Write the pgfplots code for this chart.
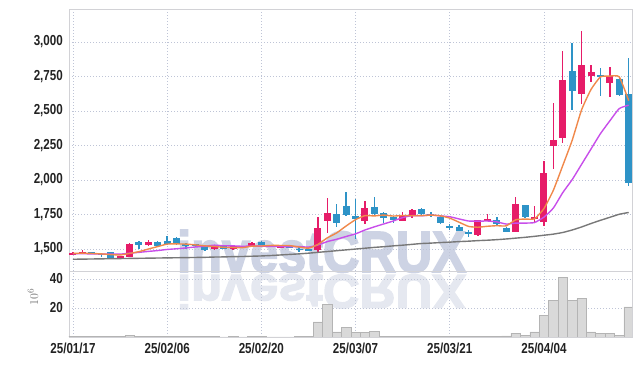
\documentclass[border=0pt]{standalone}
\usepackage{pgfplots}
\pgfplotsset{compat=1.18}
\usepackage{pgfplotstable}
\usepackage{fontspec}
\setmainfont{Liberation Sans}
\newfontfamily\tickfont{Liberation Sans}[FakeStretch=0.8]
\newfontfamily\wmfont{Liberation Sans}[FakeBold=3]
\definecolor{upc}{RGB}{230,28,104}
\definecolor{dnc}{RGB}{46,147,199}
\definecolor{maA}{RGB}{240,136,74}
\definecolor{maB}{RGB}{200,78,234}
\definecolor{maC}{RGB}{120,120,120}
\definecolor{gridc}{RGB}{190,196,214}
\definecolor{framec}{RGB}{210,210,214}
\definecolor{wm}{RGB}{205,211,228}
\definecolor{wmr}{RGB}{229,232,240}
\definecolor{volf}{RGB}{217,217,217}
\definecolor{vold}{RGB}{180,180,180}
\definecolor{lbl}{RGB}{34,34,34}

\pgfplotstableread{
x o h l c
0 1462 1475 1458 1468
1 1468 1492 1462 1482
5 1433 1452 1430 1450
6 1444 1545 1440 1536
8 1530 1562 1520 1550
15 1500 1530 1495 1524
17 1500 1522 1490 1520
18 1512 1522 1508 1519
19 1524 1550 1520 1545
22 1512 1526 1508 1521
26 1493 1735 1470 1650
27 1705 1872 1614 1763
31 1705 1848 1682 1795
35 1705 1768 1700 1739
36 1739 1790 1728 1783
43 1601 1712 1596 1710
44 1705 1753 1700 1717
47 1626 1875 1622 1826
49 1715 1814 1698 1730
50 1698 2140 1666 2048
51 2249 2556 2080 2290
52 2307 2937 2265 2725
54 2621 3082 2549 2833
55 2756 2833 2708 2785
57 2700 2821 2599 2756
}\upt

\pgfplotstableread{
x o h l c
2 1475 1482 1462 1465
3 1466 1470 1445 1455
4 1478 1480 1432 1435
7 1553 1558 1500 1530
9 1550 1560 1522 1525
10 1560 1598 1530 1540
11 1582 1585 1528 1538
12 1532 1542 1500 1524
13 1534 1538 1515 1520
14 1522 1525 1488 1490
16 1520 1522 1498 1500
20 1553 1556 1528 1530
21 1528 1532 1514 1518
23 1518 1522 1506 1510
24 1500 1520 1478 1495
25 1498 1502 1484 1487
28 1756 1826 1660 1690
29 1812 1915 1740 1746
30 1739 1862 1570 1717
32 1802 1880 1745 1751
33 1758 1768 1690 1722
34 1730 1740 1692 1710
37 1790 1795 1745 1756
38 1750 1770 1735 1742
39 1734 1738 1680 1686
40 1662 1680 1640 1655
41 1657 1672 1628 1633
42 1620 1640 1590 1606
45 1710 1732 1676 1681
46 1655 1660 1620 1626
48 1819 1822 1722 1734
53 2790 2990 2507 2648
56 2761 2809 2611 2744
58 2732 2745 2606 2616
59 2623 2882 1959 1976
}\dnt

\pgfplotstableread{
x a b g
0 1468 1466 1426
1 1470 1466 1427
2 1468 1465 1428
3 1465 1464 1429
4 1460 1463 1430
5 1457 1463 1431
6 1468 1470 1432
7 1481 1476 1433
8 1500 1483 1434
9 1518 1489 1435
10 1536 1497 1436
11 1537 1502 1437
12 1536 1508 1438
13 1530 1515 1439
14 1523 1520 1440
15 1519 1528 1442
16 1512 1524 1443
17 1511 1523 1445
18 1510 1520 1446
19 1521 1522 1448
20 1522 1521 1450
21 1526 1519 1453
22 1526 1518 1457
23 1525 1517 1461
24 1515 1518 1465
25 1506 1514 1470
26 1533 1529 1476
27 1581 1554 1482
28 1617 1571 1488
29 1667 1591 1494
30 1713 1610 1500
31 1742 1638 1506
32 1740 1661 1512
33 1746 1682 1517
34 1739 1703 1523
35 1743 1728 1528
36 1741 1742 1534
37 1742 1741 1540
38 1746 1746 1543
39 1741 1740 1547
40 1724 1734 1550
41 1694 1718 1554
42 1664 1703 1557
43 1658 1702 1561
44 1665 1703 1564
45 1669 1697 1568
46 1668 1681 1573
47 1712 1688 1579
48 1717 1688 1585
49 1719 1692 1592
50 1793 1731 1600
51 1926 1797 1608
52 2105 1909 1620
53 2288 2003 1638
54 2509 2114 1660
55 2656 2225 1685
56 2747 2336 1708
57 2753 2429 1730
58 2747 2518 1752
59 2575 2542 1765
}\mat

\pgfplotstableread{
x v
0 0.2
1 0.3
2 0.2
3 0.2
4 0.3
5 0.2
6 1.0
7 0.3
8 0.2
9 0.2
10 0.3
11 0.3
12 0.2
13 0.2
14 0.2
15 0.2
16 0.1
17 0.2
18 0.1
19 0.2
20 0.2
21 0.1
22 0.1
23 0.1
24 0.2
25 0.3
26 10.5
27 22.3
28 3.5
29 6.8
30 3.3
31 3.3
32 3.8
33 0.6
34 0.5
35 0.5
36 0.5
37 0.6
38 0.5
39 0.5
40 0.3
41 0.2
42 0.6
43 0.6
44 0.3
45 0.3
46 0.7
47 2.6
48 1.2
49 3.5
50 14.7
51 25.3
52 41.0
53 25.3
54 26.4
55 3.5
56 2.6
57 2.6
58 1.2
59 20.8
}\volt

\pgfplotsset{
  common/.style={
    scale only axis, width=563pt,
    xmin=-0.42, xmax=59.35,
    xtick={0,10,...,50},
    grid=major,
    grid style={gridc, dash pattern=on 1pt off 2pt, line width=0.6pt},
    axis line style={framec, line width=0.8pt},
    major tick length=0pt,
    tick style={draw=none},
    tick label style={font=\tickfont\bfseries\fontsize{14.5}{16}\selectfont, text=lbl},
    yticklabel style={anchor=east, inner sep=0pt, xshift=-6pt},
    /pgf/number format/assume math mode=true,
    /pgf/number format/1000 sep={,},
  }
}

\begin{document}
\begin{tikzpicture}
\path[use as bounding box] (0pt,0pt) rectangle (643pt,366pt);
% watermark
\node[anchor=base west, text=wm, font=\wmfont\bfseries\fontsize{58}{58}\selectfont, xscale=0.87, inner sep=0pt] at (177pt,94pt) {investCRUX};
\begin{scope}
\clip (0pt,56pt) rectangle (643pt,92pt);
\node[anchor=base west, text=wmr, font=\wmfont\bfseries\fontsize{58}{58}\selectfont, xscale=0.87, yscale=-0.82, inner sep=0pt] at (177pt,91pt) {investCRUX};
\end{scope}

\begin{axis}[common,
  at={(69pt,95pt)}, anchor=south west, height=262pt,
  ymin=1341, ymax=3239,
  ytick={1500,1750,...,3000},
  xticklabels={},
]
% wicks
\addplot[draw=none, mark=none, forget plot,
  error bars/.cd, y dir=both, y explicit, error mark=none,
  error bar style={draw=upc, solid, line width=1.4pt}]
  table[x=x, y expr={(\thisrow{h}+\thisrow{l})/2}, y error expr={(\thisrow{h}-\thisrow{l})/2}] {\upt};
\addplot[draw=none, mark=none, forget plot,
  error bars/.cd, y dir=both, y explicit, error mark=none,
  error bar style={draw=dnc, solid, line width=1.4pt}]
  table[x=x, y expr={(\thisrow{h}+\thisrow{l})/2}, y error expr={(\thisrow{h}-\thisrow{l})/2}] {\dnt};
% bodies
\addplot[draw=none, mark=none, forget plot,
  error bars/.cd, y dir=both, y explicit, error mark=none,
  error bar style={draw=upc, solid, line width=7pt}]
  table[x=x, y expr={(\thisrow{o}+\thisrow{c})/2}, y error expr={max(abs(\thisrow{c}-\thisrow{o})/2,6)}] {\upt};
\addplot[draw=none, mark=none, forget plot,
  error bars/.cd, y dir=both, y explicit, error mark=none,
  error bar style={draw=dnc, solid, line width=7pt}]
  table[x=x, y expr={(\thisrow{o}+\thisrow{c})/2}, y error expr={max(abs(\thisrow{c}-\thisrow{o})/2,6)}] {\dnt};
% moving averages
\addplot[maC, line width=1.4pt, mark=none, smooth, tension=0.3] table[x=x, y=g] {\mat};
\addplot[maB, line width=1.4pt, mark=none, smooth, tension=0.3] table[x=x, y=b] {\mat};
\addplot[maA, line width=1.4pt, mark=none, smooth, tension=0.3] table[x=x, y=a] {\mat};
\end{axis}

\begin{axis}[common,
  at={(69pt,29pt)}, anchor=south west, height=66pt,
  ymin=0, ymax=45.5,
  ytick={20,40},
  xticklabels={25/01/17,25/02/06,25/02/20,25/03/07,25/03/21,25/04/04},
  xticklabel style={anchor=north, inner sep=0pt, yshift=-6pt},
]
\addplot[ybar, bar width=1, bar shift=0pt, fill=volf, draw=vold, line width=0.5pt] table[x=x, y=v] {\volt};
\end{axis}

\node[rotate=90, text=black!55, font=\fontsize{13}{13}\selectfont] at (33pt,69pt) {$10^{6}$};
\end{tikzpicture}
\end{document}
